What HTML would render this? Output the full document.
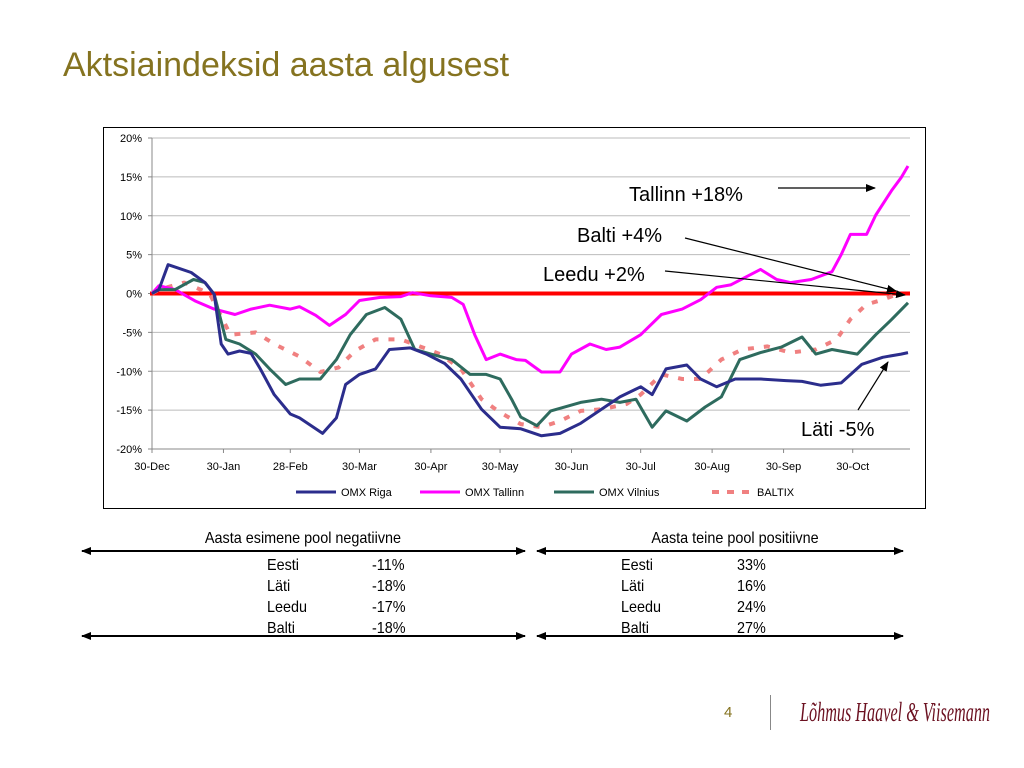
<!DOCTYPE html>
<html><head><meta charset="utf-8"><style>
body{margin:0;width:1024px;height:768px;background:#fff;overflow:hidden;font-family:"Liberation Sans",sans-serif}
.abs{position:absolute;white-space:nowrap}
</style></head><body>
<div class="abs" style="left:63px;top:46px;font-size:34px;color:#857320">Aktsiaindeksid aasta algusest</div>
<svg id="c" width="1024" height="768" style="position:absolute;left:0;top:0"></svg>
<div class="abs" style="left:724px;top:704px;font-size:15px;color:#857320">4</div>
<div class="abs" style="left:770px;top:695px;width:1px;height:35px;background:#888"></div>
<div class="abs" style="left:800px;top:697px;font-family:'Liberation Serif',serif;font-style:italic;font-size:27px;color:#6b1020;transform:scaleX(0.6);transform-origin:left top">Lõhmus Haavel &amp; Viisemann</div>
<script>
const riDays=[0,3,7,11,17,23,27,30,33,38,43,47,53,60,64,74,80,84,90,97,103,112,119,127,134,143,151,160,169,177,186,195,203,212,217,223,232,238,245,253,264,275,282,290,299,308,317,325,328];
const riVals=[0,0.5,3.7,3.3,2.7,1.4,-0.1,-6.5,-7.8,-7.4,-7.7,-9.7,-13,-15.5,-16,-18,-16,-11.7,-10.4,-9.7,-7.2,-7,-7.8,-9,-11,-14.9,-17.2,-17.4,-18.3,-18,-16.7,-14.9,-13.3,-12,-13,-9.7,-9.2,-11,-12,-11,-11,-11.2,-11.3,-11.8,-11.5,-9.1,-8.2,-7.8,-7.6];
const taDays=[0,3,10,19,27,36,43,51,60,64,71,77,84,90,99,108,113,121,130,135,140,145,151,158,162,169,177,182,190,197,203,212,221,230,238,245,251,264,271,277,286,295,299,303,310,314,321,325,328];
const taVals=[0,1,0.5,-1,-2,-2.7,-2,-1.5,-2,-1.7,-2.8,-4.1,-2.7,-0.9,-0.5,-0.4,0.1,-0.3,-0.5,-1.4,-5.3,-8.5,-7.8,-8.5,-8.6,-10.1,-10.1,-7.8,-6.5,-7.2,-6.9,-5.3,-2.7,-2,-0.8,0.8,1.1,3.1,1.8,1.4,1.8,2.8,5,7.6,7.6,10.1,13.3,14.9,16.4];
const viDays=[0,3,10,18,23,27,32,38,45,51,58,64,73,80,86,93,101,108,114,121,130,138,145,151,156,160,167,173,186,195,203,210,217,223,232,240,247,255,264,273,282,288,295,306,314,321,328];
const viVals=[0,0.5,0.5,1.8,1.4,-0.1,-5.9,-6.5,-7.8,-9.7,-11.7,-11,-11,-8.5,-5.3,-2.7,-1.8,-3.3,-7.2,-7.8,-8.5,-10.4,-10.4,-11,-13.6,-15.9,-17,-15.1,-14,-13.6,-14,-13.6,-17.2,-15.1,-16.4,-14.6,-13.3,-8.5,-7.6,-6.9,-5.6,-7.8,-7.2,-7.8,-5.3,-3.3,-1.2];
const baDays=[0,3,14,25,34,45,53,64,73,81,88,97,108,117,125,134,143,151,160,169,177,186,195,206,212,221,230,238,247,256,267,277,288,297,303,310,317,325];
const baVals=[0,0.5,1.4,0,-5.3,-5,-6.5,-8.1,-10.1,-9.5,-7.4,-5.9,-5.9,-6.9,-7.8,-9.7,-13.6,-15.3,-16.8,-17.2,-16.4,-15.1,-14.9,-14.2,-13,-10.4,-11,-11,-8.5,-7.2,-6.8,-7.6,-7.2,-5.9,-3.3,-1.4,-0.8,0.1];
const yTicks=[20,15,10,5,0,-5,-10,-15,-20];
const xTickLabels=["30-Dec","30-Jan","28-Feb","30-Mar","30-Apr","30-May","30-Jun","30-Jul","30-Aug","30-Sep","30-Oct"];
const xTickDays=[0,31,60,90,121,151,182,212,243,274,304];

const NS="http://www.w3.org/2000/svg",svg=document.getElementById('c');
const X0=152,X1=910,Y0=138,Y1=449;
const xs=d=>X0+d*2.305;
const ys=v=>Y0+(20-v)*(Y1-Y0)/40;
function mk(t,a,p){const e=document.createElementNS(NS,t);for(const k in a)e.setAttribute(k,a[k]);(p||svg).appendChild(e);return e;}
let e;
e=mk('rect',{x:103.5,y:127.5,width:822,height:381,fill:'#fff',stroke:'#000','stroke-width':1});


yTicks.forEach(v=>{
 if(v!==0&&v!==-20){e=mk('line',{x1:X0,x2:X1,y1:ys(v),y2:ys(v),stroke:'#bbb'});}
 e=mk('text',{x:142,y:ys(v)+4,'font-size':11,'text-anchor':'end','font-family':'Liberation Sans'});e.textContent=v+'%';
 
 
 mk('line',{x1:X0-4,x2:X0,y1:ys(v),y2:ys(v),stroke:'#888'});
});
mk('line',{x1:X0,x2:X0,y1:Y0,y2:Y1,stroke:'#888'});
mk('line',{x1:X0,x2:X1,y1:Y1,y2:Y1,stroke:'#888'});
xTickLabels.forEach((l,i)=>{
 const x=xs(xTickDays[i]);
 mk('line',{x1:x,x2:x,y1:Y1,y2:Y1+4,stroke:'#888'});
 e=mk('text',{x:x,y:470,'font-size':11,'text-anchor':'middle','font-family':'Liberation Sans'});e.textContent=l;
 
 
});
e=mk('line',{x1:X0-2,x2:X1,y1:ys(0),y2:ys(0),stroke:'#f00','stroke-width':4});


function series(days,vals,col,name,dash){
 const pts=days.map((d,i)=>xs(d).toFixed(1)+','+ys(vals[i]).toFixed(1)).join(' ');
 const a={points:pts,fill:'none',stroke:col,'stroke-width':dash?4:3,'stroke-linejoin':'round'};
 if(dash)a['stroke-dasharray']='6,10';
 const p=mk('polyline',a);
 
 
}
series(baDays,baVals,'#f08080','baltix-line',true);
series(taDays,taVals,'#ff00ff','omx-tallinn-line');
series(viDays,viVals,'#2e6b5e','omx-vilnius-line');
series(riDays,riVals,'#2b2d8c','omx-riga-line');
const leg=[["OMX Riga",296,'#2b2d8c',0],["OMX Tallinn",420,'#ff00ff',0],["OMX Vilnius",554,'#2e6b5e',0],["BALTIX",712,'#f08080',1]];
leg.forEach(l=>{
 const a={x1:l[1],x2:l[1]+40,y1:492,y2:492,stroke:l[2],'stroke-width':l[3]?4:3};
 if(l[3])a['stroke-dasharray']='7,8';
 mk('line',a);
 e=mk('text',{x:l[1]+45,y:496,'font-size':11,'font-family':'Liberation Sans'});e.textContent=l[0];
 
 
});
mk('defs',{}).innerHTML='<marker id="ah" markerWidth="10" markerHeight="8" refX="9" refY="4" orient="auto-start-reverse" markerUnits="userSpaceOnUse"><path d="M0,0L10,4L0,8z" fill="#000"/></marker>';
[["Tallinn +18%",629,201,778,188,875,188],["Balti +4%",577,242,685,238,896,291],["Leedu +2%",543,281,665,271,905,295],["Läti -5%",801,436,858,410,888,362]].forEach(a=>{
 e=mk('text',{x:a[1],y:a[2],'font-size':20,'font-family':'Liberation Sans'});e.textContent=a[0];
 
 
 mk('line',{x1:a[3],y1:a[4],x2:a[5],y2:a[6],stroke:'#000','stroke-width':1.2,'marker-end':'url(#ah)'});
});
[[82,525,551],[537,903,551],[82,525,636],[537,903,636]].forEach(r=>{
 e=mk('line',{x1:r[0],x2:r[1],y1:r[2],y2:r[2],stroke:'#000','stroke-width':2,'marker-end':'url(#ah)','marker-start':'url(#ah)'});
 
 
});
function t(s,x,y,anc){e=mk('text',{x:x,y:y,'font-size':16,'font-family':'Liberation Sans','text-anchor':anc||'start'});e.textContent=s;e.setAttribute('transform','translate('+x+' 0) scale(0.9 1) translate('+(-x)+' 0)');}
t("Aasta esimene pool negatiivne",303,543,'middle');
t("Aasta teine pool positiivne",735,543,'middle');
const names=["Eesti","Läti","Leedu","Balti"],h1=["-11%","-18%","-17%","-18%"],h2=["33%","16%","24%","27%"];
names.forEach((n,i)=>{const y=570+i*21;t(n,267,y);t(h1[i],372,y);t(n,621,y);t(h2[i],737,y);});
</script>
</body></html>
